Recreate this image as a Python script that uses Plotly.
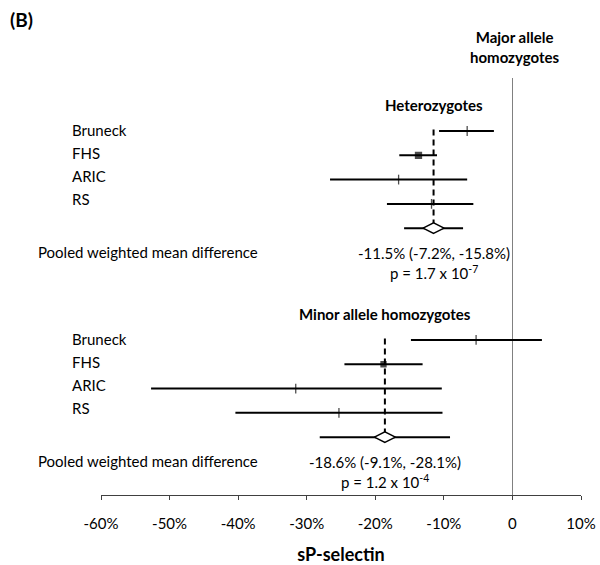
import plotly.graph_objects as go

# ---- data ----
studies = ["Bruneck", "FHS", "ARIC", "RS"]

het_est = [-6.6, -13.7, -16.6, -11.8]
het_lo = [-10.7, -16.5, -26.6, -18.3]
het_hi = [-2.7, -11.0, -6.6, -5.7]
het_pooled = [-11.5, -15.8, -7.2]  # est, lo, hi

min_est = [-5.3, -18.8, -31.6, -25.3]
min_lo = [-14.8, -24.5, -52.7, -40.4]
min_hi = [4.3, -13.1, -10.3, -10.2]
min_pooled = [-18.6, -28.1, -9.1]

het_text = ["-11.5% (-7.2%, -15.8%)", "p = 1.7 x 10<sup>-7</sup>"]
min_text = ["-18.6% (-9.1%, -28.1%)", "p = 1.2 x 10<sup>-4</sup>"]

tick_vals = [-60, -50, -40, -30, -20, -10, 0, 10]
tick_text = ["-60%", "-50%", "-40%", "-30%", "-20%", "-10%", "0", "10%"]

FONT = "Lato"
fig = go.Figure()

groups = [
    ("Heterozygotes", 0.0, het_est, het_lo, het_hi, het_pooled, het_text),
    ("Minor allele homozygotes", 8.6, min_est, min_lo, min_hi, min_pooled, min_text),
]

annotations = []
for title, base, est, lo, hi, pooled, txt in groups:
    rows = [base + i for i in range(len(studies))]
    prow = base + len(studies)
    # dashed line at pooled estimate
    fig.add_trace(go.Scatter(x=[pooled[0], pooled[0]], y=[base - 0.06, prow],
                             mode="lines", line=dict(color="black", width=2, dash="6px,4px"),
                             showlegend=False, hoverinfo="skip"))
    symbols = ["line-ns-open", "square", "line-ns-open", "line-ns-open"]
    sizes = [7, 6, 7, 7]
    if base > 0:
        sizes = [7, 5, 7, 7]
    fig.add_trace(go.Scatter(
        x=est, y=rows, mode="markers",
        marker=dict(symbol=symbols, size=sizes, color="black",
                    line=dict(color="black", width=1.3)),
        error_x=dict(type="data", symmetric=False,
                     array=[h - e for h, e in zip(hi, est)],
                     arrayminus=[e - l for e, l in zip(est, lo)],
                     color="black", thickness=2, width=0),
        showlegend=False, hoverinfo="skip"))
    fig.add_trace(go.Scatter(
        x=[pooled[0]], y=[prow], mode="markers",
        marker=dict(symbol="diamond-wide", size=15, color="white",
                    line=dict(color="black", width=1.5)),
        error_x=dict(type="data", symmetric=False,
                     array=[pooled[2] - pooled[0]],
                     arrayminus=[pooled[0] - pooled[1]],
                     color="black", thickness=2, width=0),
        showlegend=False, hoverinfo="skip"))
    # labels
    for i, s in enumerate(studies):
        annotations.append(dict(text=s, xref="paper", x=(70 - 101) / 480, xanchor="left",
                                yref="y", y=base - 0.02 + i * 0.94, yanchor="middle",
                                showarrow=False,
                                font=dict(size=15, color="black", family=FONT)))
    annotations.append(dict(text="Pooled weighted mean difference", xref="paper",
                            x=(36 - 101) / 480, xanchor="left",
                            yref="y", y=prow + 1.0, yanchor="middle", showarrow=False,
                            font=dict(size=15, color="black", family=FONT)))
    annotations.append(dict(text="<b>" + title + "</b>", xref="x", x=pooled[0], xanchor="center",
                            yref="y", y=base - 1.05, yanchor="middle", showarrow=False,
                            font=dict(size=15, color="black", family=FONT)))
    annotations.append(dict(text=txt[0], xref="x", x=pooled[0], xanchor="center",
                            yref="y", y=prow + 1.02, yanchor="middle",
                            showarrow=False, font=dict(size=15, color="black", family=FONT)))
    annotations.append(dict(text=txt[1], xref="x", x=pooled[0], xanchor="center",
                            yref="y", y=prow + 1.84, yanchor="middle",
                            showarrow=False, font=dict(size=15, color="black", family=FONT)))

annotations.append(dict(text="<b>Major allele<br>homozygotes</b>", xref="paper",
                        x=(515 - 101) / 480, xanchor="center",
                        yref="paper", y=(495 - 47) / 417, yanchor="middle", showarrow=False,
                        font=dict(size=15, color="black", family=FONT)))
annotations.append(dict(text="<b>(B)</b>", xref="paper", x=(8 - 101) / 480, xanchor="left",
                        yref="paper", y=(495 - 20) / 417, yanchor="middle", showarrow=False,
                        font=dict(size=19, color="black", family=FONT)))

fig.update_layout(
    width=600, height=565,
    autosize=False,
    margin=dict(l=101, r=19, t=78, b=70),
    paper_bgcolor="white", plot_bgcolor="white",
    font=dict(family=FONT, size=15, color="black"),
    annotations=annotations,
    xaxis=dict(range=[-60, 10], tickvals=tick_vals, ticktext=tick_text,
               automargin=False,
               showgrid=False, zeroline=True, zerolinecolor="#808080", zerolinewidth=1.3,
               showline=True, linecolor="#404040", linewidth=1.3,
               ticks="outside", ticklen=4, tickcolor="#404040", tickwidth=1.3,
               ticklabelstandoff=11,
               tickfont=dict(size=15, family=FONT, color="black"),
               title=dict(text="<b>sP-selectin</b>", font=dict(size=18, family=FONT, color="black"),
                          standoff=18)),
    yaxis=dict(range=[14.98, -2.18], visible=False, showgrid=False, zeroline=False,
               automargin=False),
)

fig.write_html("out.html",
               config={"responsive": False, "displayModeBar": False},
               post_script="document.body.style.margin='0px';document.body.style.padding='0px';"
                           "document.body.style.overflow='hidden';")
